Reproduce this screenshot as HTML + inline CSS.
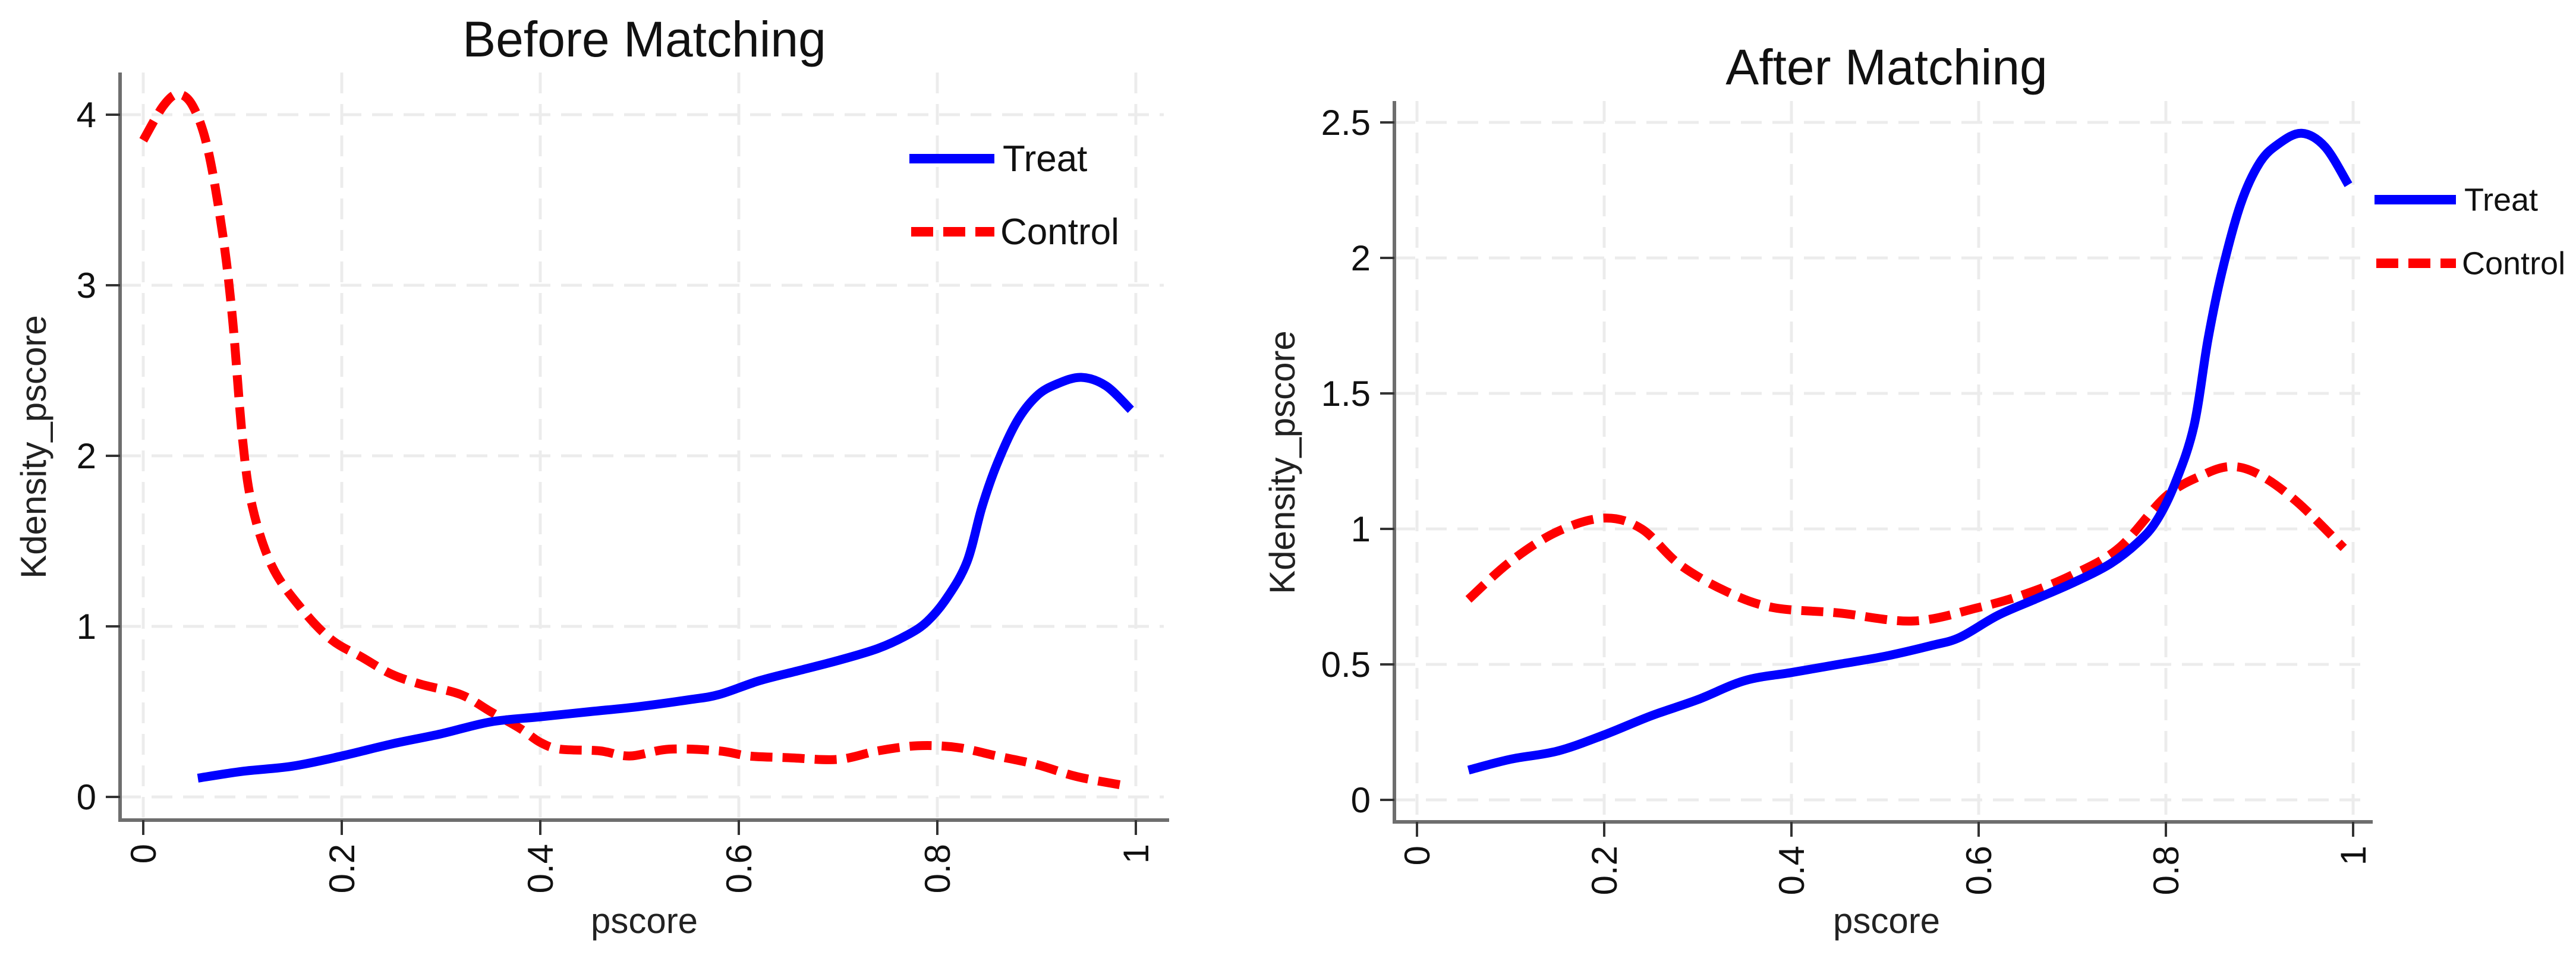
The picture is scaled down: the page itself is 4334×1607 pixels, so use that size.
<!DOCTYPE html>
<html><head><meta charset="utf-8"><style>
html,body{margin:0;padding:0;background:#fff;}
svg{display:block;font-family:"Liberation Sans",Arial,sans-serif;}
</style></head><body>
<svg id="chart" width="4334" height="1607" viewBox="0 0 4334 1607" xmlns="http://www.w3.org/2000/svg"></svg>
<script>
// ---- data ----
const xTicks = [0, 0.2, 0.4, 0.6, 0.8, 1];
const xTickLabels = ["0", "0.2", "0.4", "0.6", "0.8", "1"];
const yTicksBefore = [0, 1, 2, 3, 4];
const yTickLabelsBefore = ["0", "1", "2", "3", "4"];
const yTicksAfter = [0, 0.5, 1, 1.5, 2, 2.5];
const yTickLabelsAfter = ["0", "0.5", "1", "1.5", "2", "2.5"];
const treatX = [0.055,0.1,0.15,0.2,0.25,0.3,0.35,0.4,0.45,0.5,0.55,0.58,0.62,0.66,0.7,0.74,0.77,0.79,0.81,0.83,0.845,0.86,0.88,0.9,0.92,0.945,0.97,0.995];
const treatY = [0.11,0.15,0.18,0.24,0.31,0.37,0.44,0.47,0.5,0.53,0.57,0.6,0.68,0.74,0.8,0.87,0.95,1.03,1.17,1.38,1.7,1.95,2.2,2.35,2.42,2.46,2.41,2.27];
const ctrlBeforeX = [0,0.02,0.035,0.05,0.065,0.08,0.09,0.1,0.11,0.13,0.16,0.19,0.22,0.25,0.28,0.32,0.35,0.38,0.4,0.42,0.46,0.49,0.53,0.58,0.61,0.65,0.7,0.74,0.78,0.82,0.86,0.9,0.94,0.985];
const ctrlBeforeY = [3.85,4.05,4.12,4.05,3.8,3.3,2.8,2.1,1.7,1.35,1.1,0.92,0.82,0.72,0.66,0.6,0.5,0.4,0.32,0.28,0.27,0.24,0.28,0.27,0.24,0.23,0.22,0.27,0.3,0.29,0.24,0.19,0.12,0.07];
const ctrlAfterX = [0.055,0.1,0.15,0.2,0.24,0.28,0.33,0.38,0.45,0.53,0.6,0.65,0.7,0.75,0.8,0.84,0.87,0.9,0.94,0.99];
const ctrlAfterY = [0.74,0.88,0.99,1.04,1.0,0.87,0.77,0.71,0.69,0.66,0.71,0.76,0.83,0.93,1.12,1.2,1.23,1.2,1.1,0.93];

const NS = "http://www.w3.org/2000/svg";
const svg = document.getElementById('chart');
function mk(tag, attrs, parent, text){
  const e = document.createElementNS(NS, tag);
  for (const k in attrs) e.setAttribute(k, attrs[k]);
  if (text !== undefined) e.textContent = text;
  (parent || svg).appendChild(e);
  return e;
}
function smoothPath(xs, ys, sx, sy){
  const p = xs.map((x,i)=>[sx(x), sy(ys[i])]);
  let d = "M" + p[0][0] + "," + p[0][1];
  for (let i=0;i<p.length-1;i++){
    const p0 = p[i-1]||p[i], p1=p[i], p2=p[i+1], p3=p[i+2]||p2;
    const c1x = p1[0]+(p2[0]-p0[0])/6, c1y = p1[1]+(p2[1]-p0[1])/6;
    const c2x = p2[0]-(p3[0]-p1[0])/6, c2y = p2[1]-(p3[1]-p1[1])/6;
    d += " C"+c1x+","+c1y+" "+c2x+","+c2y+" "+p2[0]+","+p2[1];
  }
  return d;
}
function panel(cfg){
  const g = mk('g', {});
  
  
  const sx = v => cfg.x0 + v*(cfg.x1-cfg.x0);
  const sy = v => cfg.y0 - v/cfg.ymax*(cfg.y0-cfg.yTop);
  cfg.yTicks.forEach(v=>{
    const l = mk('line',{x1:cfg.axX, x2:cfg.gridR, y1:sy(v), y2:sy(v), stroke:'#ececec','stroke-width':5,'stroke-dasharray':'35 18'}, g);
    
    
  });
  xTicks.forEach(v=>{
    const l = mk('line',{x1:sx(v), x2:sx(v), y1:cfg.axTop, y2:cfg.axY, stroke:'#ececec','stroke-width':5,'stroke-dasharray':'35 18'}, g);
    
    
  });
  const ya = mk('line',{x1:cfg.axX,x2:cfg.axX,y1:cfg.axTop,y2:cfg.axY+3,stroke:'#6e6e6e','stroke-width':6}, g);
  
  
  const xa = mk('line',{x1:cfg.axX-3,x2:cfg.axR,y1:cfg.axY,y2:cfg.axY,stroke:'#6e6e6e','stroke-width':6}, g);
  
  
  cfg.yTicks.forEach((v,i)=>{
    mk('line',{x1:cfg.axX-24,x2:cfg.axX,y1:sy(v),y2:sy(v),stroke:'#333','stroke-width':4}, g);
    const t = mk('text',{x:cfg.axX-40,y:sy(v)+21,'text-anchor':'end','font-size':60,fill:'#111'}, g, cfg.yLabels[i]);
    
    
  });
  xTicks.forEach((v,i)=>{
    mk('line',{x1:sx(v),x2:sx(v),y1:cfg.axY,y2:cfg.axY+25,stroke:'#333','stroke-width':4}, g);
    const t = mk('text',{x:0,y:0,'text-anchor':'end','font-size':60,fill:'#111',transform:'translate('+(sx(v)+21)+','+(cfg.axY+40)+') rotate(-90)'}, g, xTickLabels[i]);
    
    
  });
  const title = mk('text',{x:cfg.titleX,y:cfg.titleY,'text-anchor':'middle','font-size':84,fill:'#111'}, g, cfg.title);
  
  
  const xt = mk('text',{x:cfg.titleX,y:1570,'text-anchor':'middle','font-size':60,fill:'#222'}, g, 'pscore');
  
  
  const yt = mk('text',{x:0,y:0,'text-anchor':'middle','font-size':60,fill:'#222',transform:'translate('+cfg.yLabX+','+cfg.yLabY+') rotate(-90)'}, g, 'Kdensity_pscore');
  
  
  const c = mk('path',{d:smoothPath(cfg.cx,cfg.cy,sx,sy),fill:'none',stroke:'#ff0000','stroke-width':15,'stroke-dasharray':'37 17'}, g);
  
  
  const tr = mk('path',{d:smoothPath(treatX,treatY,sx,sy),fill:'none',stroke:'#0000ff','stroke-width':15,'stroke-linejoin':'round'}, g);
  
  
  const l1 = mk('line',{x1:cfg.legX,x2:cfg.legX+cfg.legW,y1:cfg.legY1,y2:cfg.legY1,stroke:'#0000ff','stroke-width':16}, g);
  
  
  const t1 = mk('text',{x:cfg.legX+cfg.legW+14,y:cfg.legY1+cfg.legFs*0.34,'font-size':cfg.legFs,fill:'#111'}, g, 'Treat');
  
  
  const l2 = mk('line',{x1:cfg.legX+3,x2:cfg.legX+cfg.legW,y1:cfg.legY2,y2:cfg.legY2,stroke:'#ff0000','stroke-width':16,'stroke-dasharray':'37 17'}, g);
  
  
  const t2 = mk('text',{x:cfg.legX+cfg.legW+10,y:cfg.legY2+cfg.legFs*0.34,'font-size':cfg.legFs,fill:'#111'}, g, 'Control');
  
  
}
panel({name:'before-matching-panel', title:'Before Matching', titleX:1084, titleY:95,
  x0:241, x1:1911, y0:1341, yTop:193, ymax:4, axX:202, axY:1380, axTop:122, axR:1967, gridR:1958,
  yTicks:yTicksBefore, yLabels:yTickLabelsBefore, cx:ctrlBeforeX, cy:ctrlBeforeY,
  yLabX:77, yLabY:752, legX:1530, legW:143, legFs:62, legY1:267, legY2:390});
panel({name:'after-matching-panel', title:'After Matching', titleX:3174, titleY:142,
  x0:2384, x1:3959, y0:1346, yTop:206, ymax:2.5, axX:2346, axY:1383, axTop:170, axR:3992, gridR:3985,
  yTicks:yTicksAfter, yLabels:yTickLabelsAfter, cx:ctrlAfterX, cy:ctrlAfterY,
  yLabX:2178, yLabY:778, legX:3995, legW:137, legFs:54, legY1:336, legY2:443});
</script>
</body></html>
